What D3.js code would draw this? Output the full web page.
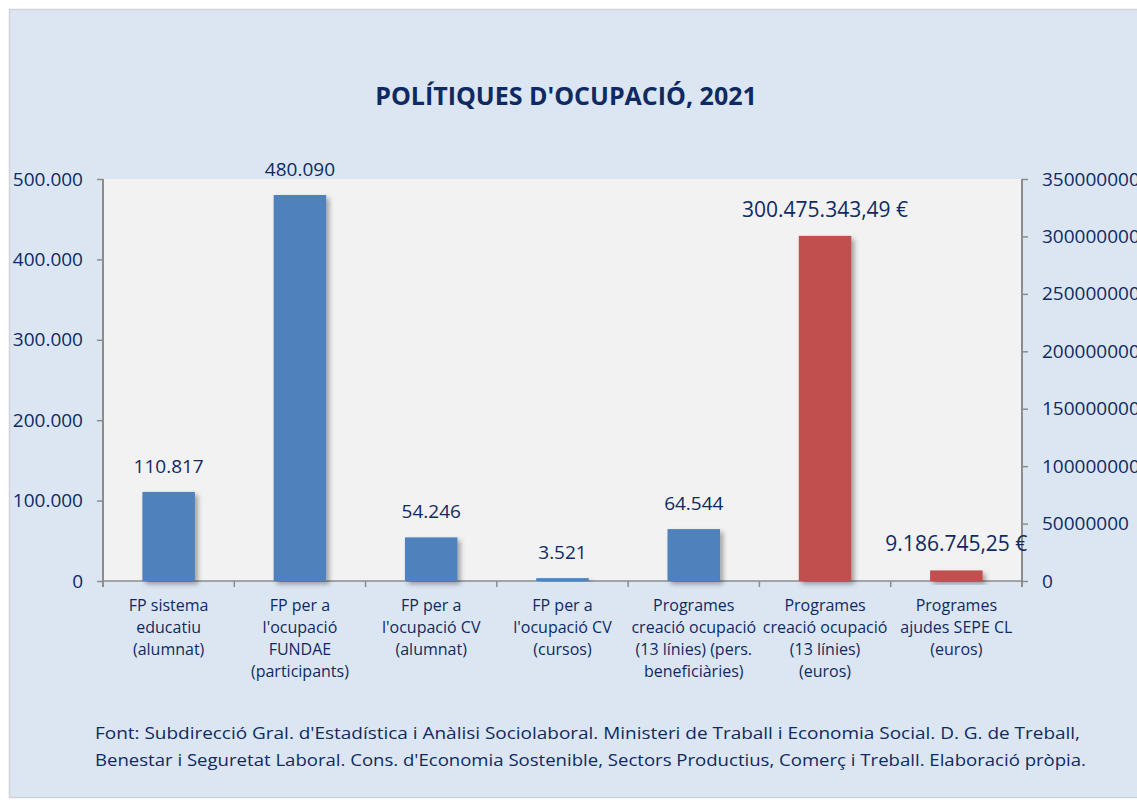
<!DOCTYPE html>
<html>
<head>
<meta charset="utf-8">
<script src="https://cdn.jsdelivr.net/npm/d3@7"></script>
<style>
  body { margin: 0; background: #fff; }
  svg text { font-family: "Open Sans", Lato, sans-serif; fill: #0f2a62; }
</style>
</head>
<body>
<svg id="chart"></svg>
<script>
// categories and values
const categories = [
  ["FP sistema", "educatiu", "(alumnat)"],
  ["FP per a", "l'ocupació", "FUNDAE", "(participants)"],
  ["FP per a", "l'ocupació CV", "(alumnat)"],
  ["FP per a", "l'ocupació CV", "(cursos)"],
  ["Programes", "creació ocupació", "(13 línies) (pers.", "beneficiàries)"],
  ["Programes", "creació ocupació", "(13 línies)", "(euros)"],
  ["Programes", "ajudes SEPE CL", "(euros)"]
];
const values = [110817, 480090, 54246, 3521, 64544, 300475343.49, 9186745.25];
const axisSide = ["left", "left", "left", "left", "left", "right", "right"];
const leftTicks = [0, 100000, 200000, 300000, 400000, 500000];
const rightTicks = [0, 50000000, 100000000, 150000000, 200000000, 250000000, 300000000, 350000000];
const footer = [
  "Font: Subdirecció Gral. d'Estadística i Anàlisi Sociolaboral. Ministeri de Traball i Economia Social. D. G. de Treball,",
  "Benestar i Seguretat Laboral. Cons. d'Economia Sostenible, Sectors Productius, Comerç i Treball. Elaboració pròpia."
];

const width = 1137, height = 800;
const plot = {left: 103, right: 1022, top: 179, bottom: 581};

const svg = d3.select("#chart").attr("width", width).attr("height", height);

// shadow for the bars
const defs = svg.append("defs");
const f = defs.append("filter").attr("id", "shadow").attr("x", "-20%").attr("y", "-20%").attr("width", "150%").attr("height", "150%");
f.append("feDropShadow").attr("dx", 3).attr("dy", 3).attr("stdDeviation", 2.5).attr("flood-color", "#000").attr("flood-opacity", 0.35);

// outer panel
svg.append("rect")
  .attr("x", 9.5).attr("y", 9.5).attr("width", 1140).attr("height", 788)
  .attr("fill", "#dce6f2").attr("stroke", "#d0d4da").attr("stroke-width", 1.5);

// plot area
svg.append("rect")
  .attr("x", plot.left).attr("y", plot.top)
  .attr("width", plot.right - plot.left).attr("height", plot.bottom - plot.top)
  .attr("fill", "#f2f2f2");

// title
svg.append("text")
  .attr("x", 566).attr("y", 105)
  .attr("text-anchor", "middle")
  .style("font-size", "25px").style("font-weight", "bold")
  .style("fill", "#0f2a62")
  .text("POLÍTIQUES D'OCUPACIÓ, 2021");

// scales
const x = d3.scaleBand().domain(d3.range(categories.length))
  .range([plot.left, plot.right]).paddingInner(0.6).paddingOuter(0.3);
const xCat = d3.scaleBand().domain(d3.range(categories.length)).range([plot.left, plot.right]);
const yLeft = d3.scaleLinear().domain([0, 500000]).range([plot.bottom, plot.top]);
const yRight = d3.scaleLinear().domain([0, 350000000]).range([plot.bottom, plot.top]);

const fmtThousands = d3.formatLocale({decimal: ",", thousands: ".", grouping: [3], currency: ["", " €"]});
const fmtInt = fmtThousands.format(",d");
const fmtEuro = fmtThousands.format("$,.2f");

// left axis
const gl = svg.append("g").attr("transform", `translate(${plot.left},0)`)
  .call(d3.axisLeft(yLeft).tickValues(leftTicks).tickSize(6).tickPadding(14).tickFormat(fmtInt));
// right axis
const gr = svg.append("g").attr("transform", `translate(${plot.right},0)`)
  .call(d3.axisRight(yRight).tickValues(rightTicks).tickSize(6).tickPadding(14).tickFormat(d => String(d)));
// bottom axis (ticks at category boundaries)
const gb = svg.append("g").attr("transform", `translate(0,${plot.bottom})`);
gb.append("line").attr("x1", plot.left).attr("x2", plot.right).attr("y1", 0).attr("y2", 0);
gb.selectAll(".tk").data(d3.range(categories.length + 1)).enter().append("line")
  .attr("class", "tk")
  .attr("x1", i => plot.left + i * xCat.bandwidth()).attr("x2", i => plot.left + i * xCat.bandwidth())
  .attr("y1", 0).attr("y2", 6);

[gl, gr].forEach(g => {
  g.select(".domain").remove();
  g.selectAll(".tick line").attr("stroke", "#8c8c8c").attr("stroke-width", 1.5);
  g.selectAll(".tick text").style("font-size", "19px").style("fill", "#0f2a62").attr("font-family", null);
  g.append("line").attr("y1", plot.top).attr("y2", plot.bottom + 6).attr("stroke", "#8c8c8c").attr("stroke-width", 2);
});
gb.selectAll("line").attr("stroke", "#8c8c8c").attr("stroke-width", 1.5);

// bars
const yOf = i => axisSide[i] === "left" ? yLeft(values[i]) : yRight(values[i]);
svg.append("g").selectAll("rect").data(values).enter().append("rect")
  .attr("x", (d, i) => x(i))
  .attr("y", (d, i) => yOf(i))
  .attr("width", x.bandwidth())
  .attr("height", (d, i) => plot.bottom - yOf(i))
  .attr("fill", (d, i) => axisSide[i] === "left" ? "#4f81bd" : "#c0504d")
  .attr("filter", "url(#shadow)");

// data labels
svg.append("g").selectAll("text").data(values).enter().append("text")
  .attr("x", (d, i) => x(i) + x.bandwidth() / 2)
  .attr("y", (d, i) => yOf(i) - 19)
  .attr("text-anchor", "middle")
  .style("font-size", (d, i) => axisSide[i] === "left" ? "19px" : "21px")
  .text((d, i) => axisSide[i] === "left" ? fmtInt(d) : fmtEuro(d));

// category labels
const cl = svg.append("g").selectAll("text").data(categories).enter().append("text")
  .attr("text-anchor", "middle")
  .style("font-size", "16px");
cl.each(function(lines, i) {
  d3.select(this).selectAll("tspan").data(lines).enter().append("tspan")
    .attr("x", xCat(i) + xCat.bandwidth() / 2)
    .attr("y", (d, j) => 611 + j * 22)
    .text(d => d);
});

// footer
svg.append("g").selectAll("text").data(footer).enter().append("text")
  .attr("x", 95).attr("y", (d, i) => 739 + i * 27)
  .style("font-size", "16px")
  .attr("textLength", (d, i) => i === 0 ? 985 : 991)
  .attr("lengthAdjust", "spacingAndGlyphs")
  .text(d => d);
</script>
</body>
</html>
